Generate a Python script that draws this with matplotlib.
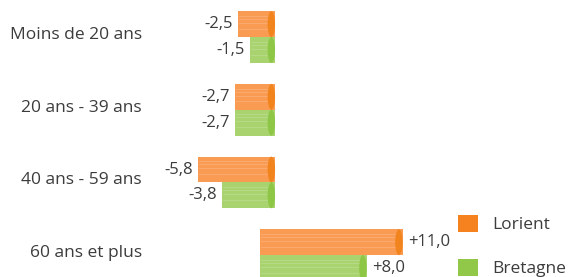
import numpy as np
import matplotlib
matplotlib.use("Agg")
import matplotlib.pyplot as plt
from matplotlib.patches import Ellipse, Patch
from matplotlib.transforms import ScaledTranslation

plt.rcParams['font.family'] = ['Open Sans', 'DejaVu Sans']

# ---- data ----
categories = ["Moins de 20 ans", "20 ans - 39 ans", "40 ans - 59 ans", "60 ans et plus"]
lorient = [-2.5, -2.7, -5.8, 11.0]
bretagne = [-1.5, -2.7, -3.8, 8.0]
series_names = ["Lorient", "Bretagne"]

# ---- styles ----
body_cols = ["#F99B52", "#A8D36F"]
stripe_cols = ["#FBB27D", "#BEDD92"]
cap_cols = ["#F2841E", "#8EC646"]
legend_cols = ["#F5821F", "#92C84A"]
text_col = "#3c3c3c"

fig = plt.figure(figsize=(5.71, 2.77), dpi=100)
ax = fig.add_axes([150 / 571, 0, 1 - 150 / 571, 1])
ax.set_xlim(-9.8, 25.28)
ax.set_ylim(3.301, -0.509)

y = np.arange(len(categories))
h = 0.355        # bar thickness
ext = 0.62       # cylinder overhang past zero
cap_w = 0.62     # end cap width

def fmt(v):
    s = f"{abs(v):.1f}".replace(".", ",")
    return ("+" if v > 0 else "-") + s

for k, vals in enumerate([lorient, bretagne]):
    yc = y + (k - 0.5) * h
    for yi, v in zip(yc, vals):
        if v < 0:
            left, right = v, ext
        else:
            left, right = -ext, v + 0.25
        ax.barh(yi, right - left, left=left, height=h, color=body_cols[k],
                edgecolor="none", zorder=2)
        for f in (-0.32, -0.2, -0.05, 0.18):
            ax.plot([left + 0.1, right - cap_w / 2], [yi + f * h, yi + f * h],
                    color=stripe_cols[k], lw=0.7, alpha=0.7, zorder=3)
        ax.add_patch(Ellipse((right - cap_w / 2, yi), cap_w, h,
                             color=cap_cols[k], zorder=4, lw=0))
        if v < 0:
            ax.text(left - 0.42, yi, fmt(v), ha="right", va="center",
                    fontsize=12, color=text_col)
        else:
            ax.text(right + 0.42, yi, fmt(v), ha="left", va="center",
                    fontsize=12, color=text_col)

ax.set_yticks(y)
ax.set_yticklabels(categories, fontsize=12.5, color=text_col)
ax.tick_params(axis="y", length=0, pad=6)
shift = ScaledTranslation(0, 4 / 100, fig.dpi_scale_trans)
for lab in ax.get_yticklabels():
    lab.set_transform(lab.get_transform() + shift)
ax.set_xticks([])
for s in ax.spines.values():
    s.set_visible(False)
ax.patch.set_alpha(0)

handles = [Patch(facecolor=c, edgecolor="none") for c in legend_cols]
fig.legend(handles, series_names, loc="lower left", bbox_to_anchor=(0.802, 0.0),
           frameon=False, fontsize=12.5, handlelength=1.15, handleheight=1.15,
           handletextpad=0.85, labelspacing=1.45, borderpad=0, borderaxespad=0,
           labelcolor=text_col)

fig.savefig("out.png", dpi=100)
